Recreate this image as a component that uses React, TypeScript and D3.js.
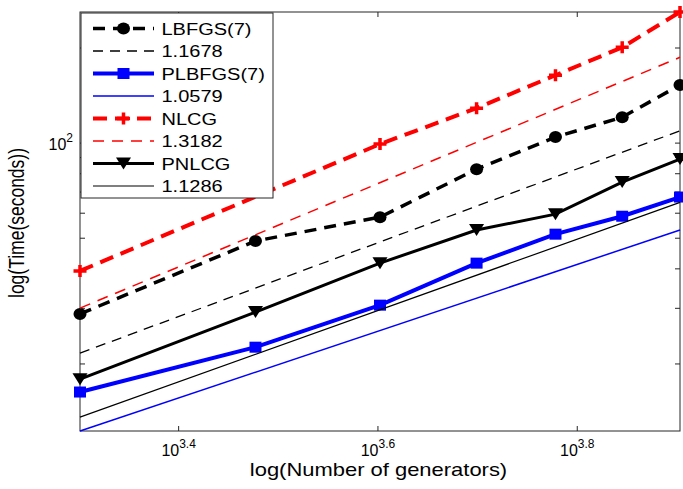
import React from "react";
import * as d3 from "d3";

const xGen = [2000, 3000, 4000, 5000, 6000, 7000, 8000];
const lbfgs = [28.8, 49.0, 58.3, 82.7, 104.5, 120.8, 152.7];
const plbfgs = [16.3, 22.6, 30.7, 41.7, 51.5, 58.7, 67.5];
const nlcgX = [2000, 4000, 5000, 6000, 7000, 8000];
const nlcg = [39.4, 99.3, 129, 164, 201, 260];
const pnlcg = [17.9, 29.2, 41.7, 53.1, 59.6, 75.3, 89];

// fitted power-law lines (value at first and last x)
const fitX = [2000, 8000];
const fitLbfgs = [21.65, 109.4];
const fitPlbfgs = [12.27, 53.1];
const fitNlcg = [30.05, 186.9];
const fitPnlcg = [13.58, 64.9];

const legendLabels = ["LBFGS(7)", "1.1678", "PLBFGS(7)", "1.0579", "NLCG", "1.3182", "PNLCG", "1.1286"];
const xTickExps = ["3.4", "3.6", "3.8"];
const yMinorTicks = [20, 30, 40, 50, 60, 70, 80, 90, 200];
const yMajorTicks = [100];

const FONT = "'Liberation Sans', Arial, Helvetica, sans-serif";

export default function App() {
  const L = 80, R = 680, T = 12, B = 431;
  const x = d3.scaleLog().domain([2000, 8000]).range([L, R]);
  const y = d3.scaleLog().domain([12.27, 260]).range([B, T]);
  const line = d3.line<[number, number]>().x(d => x(d[0])).y(d => y(d[1]));
  const pts = (xs: number[], ys: number[]) => xs.map((v, i) => [v, ys[i]] as [number, number]);
  const axisColor = "#262626";
  const tickLen = 5;

  const circle = (cx: number, cy: number, k: string) => (
    <ellipse key={k} cx={cx} cy={cy} rx={6.5} ry={6} fill="#000" />
  );
  const square = (cx: number, cy: number, k: string) => (
    <rect key={k} x={cx - 6} y={cy - 5.5} width={12} height={11} fill="#0000ff" />
  );
  const plus = (cx: number, cy: number, k: string) => (
    <path key={k} d={`M${cx - 6.5},${cy}H${cx + 6.5}M${cx},${cy - 6}V${cy + 6}`} stroke="#ff0000" strokeWidth={3.5} />
  );
  const tri = (cx: number, cy: number, k: string) => (
    <path key={k} d={`M${cx - 7.5},${cy - 6}L${cx + 7.5},${cy - 6}L${cx},${cy + 6}Z`} fill="#000" />
  );

  const series = [
    { xs: xGen, ys: lbfgs, color: "#000", w: 3.5, dash: "12,8", marker: circle },
    { xs: fitX, ys: fitLbfgs, color: "#000", w: 1.3, dash: "10,7", marker: null },
    { xs: xGen, ys: plbfgs, color: "#0000ff", w: 4, dash: undefined, marker: square },
    { xs: fitX, ys: fitPlbfgs, color: "#0000ff", w: 1.5, dash: undefined, marker: null },
    { xs: nlcgX, ys: nlcg, color: "#ff0000", w: 4, dash: "14,8", marker: plus },
    { xs: fitX, ys: fitNlcg, color: "#ff0000", w: 1.5, dash: "11,8", marker: null },
    { xs: xGen, ys: pnlcg, color: "#000", w: 3, dash: undefined, marker: tri },
    { xs: fitX, ys: fitPnlcg, color: "#000", w: 1.2, dash: undefined, marker: null },
  ];

  const legX0 = 93, legX1 = 154, legTextX = 161.5;
  const rowY = (i: number) => 28.5 + i * 22.5;

  const base = { fontSize: "16px", fontFamily: FONT };
  const sup = { fontSize: "12px" };

  return (
    <svg width={683} height={489} style={{ position: "absolute", left: 0, top: 0, background: "#fff" }}>
      <rect x={0} y={0} width={683} height={489} fill="#fff" />
      {/* axes box */}
      <rect x={L} y={T} width={R - L} height={B - T} fill="none" stroke={axisColor} strokeWidth={1} />
      {/* x ticks */}
      {xTickExps.map(e => {
        const tx = x(Math.pow(10, +e));
        return (
          <g key={e}>
            <line x1={tx} x2={tx} y1={B} y2={B - tickLen} stroke={axisColor} />
            <line x1={tx} x2={tx} y1={T} y2={T + tickLen} stroke={axisColor} />
            <text x={tx} y={456} textAnchor="middle" style={base} fill="#000">
              10<tspan dy={-8} style={sup}>{e}</tspan>
            </text>
          </g>
        );
      })}
      {/* y ticks */}
      {[...yMinorTicks, ...yMajorTicks].map(v => (
        <g key={v}>
          <line x1={L} x2={L + tickLen} y1={y(v)} y2={y(v)} stroke={axisColor} />
          <line x1={R} x2={R - tickLen} y1={y(v)} y2={y(v)} stroke={axisColor} />
        </g>
      ))}
      {yMajorTicks.map(v => (
        <text key={"l" + v} x={73} y={y(v) + 7} textAnchor="end" style={base} fill="#000">
          10<tspan dy={-8} style={sup}>{Math.round(Math.log10(v))}</tspan>
        </text>
      ))}
      {/* series */}
      {series.map((s, i) => (
        <g key={i}>
          <path d={line(pts(s.xs, s.ys)) || ""} fill="none" stroke={s.color} strokeWidth={s.w} strokeDasharray={s.dash} />
          {s.marker && s.xs.map((v, j) => s.marker!(x(v), y(s.ys[j]), `m${i}-${j}`))}
        </g>
      ))}
      {/* legend */}
      <rect x={81} y={13} width={192} height={185} fill="#fff" stroke={axisColor} strokeWidth={1} />
      {series.map((s, i) => {
        const ry = rowY(i);
        return (
          <g key={"leg" + i}>
            <line x1={legX0} x2={legX1} y1={ry} y2={ry} stroke={s.color} strokeWidth={s.w} strokeDasharray={s.dash} />
            {s.marker && s.marker((legX0 + legX1) / 2, ry, "lm" + i)}
            <text transform={`translate(${legTextX},${ry + 6}) scale(1.25,1)`} style={base} fill="#000">
              {legendLabels[i]}
            </text>
          </g>
        );
      })}
      {/* axis labels */}
      <text transform={`translate(378.5,476) scale(1.22,1)`} textAnchor="middle" style={{ ...base, fontSize: "18px" }} fill="#000">
        log(Number of generators)
      </text>
      <text transform={`translate(24,223) rotate(-90) scale(1,1.3)`} textAnchor="middle" style={{ ...base, fontSize: "17.5px" }} fill="#000">
        log(Time(seconds))
      </text>
    </svg>
  );
}
